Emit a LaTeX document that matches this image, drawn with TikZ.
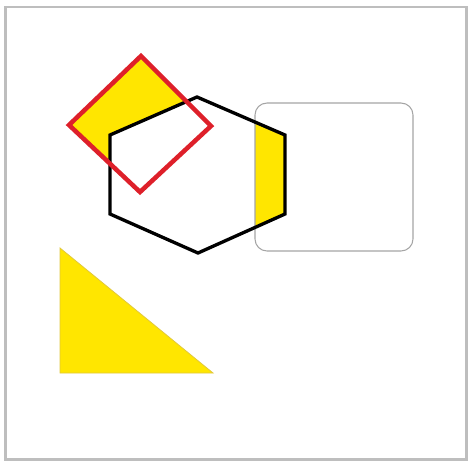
\documentclass[tikz,border=0pt]{standalone}
\definecolor{fillyel}{RGB}{255,230,0}
\definecolor{redline}{RGB}{222,32,42}
\definecolor{framegray}{RGB}{190,190,190}
\definecolor{rectgray}{RGB}{165,165,165}
\definecolor{triedge}{RGB}{225,200,60}
\tikzset{
  frame/.style={draw=framegray, line width=1.6pt},
  hexline/.style={draw=black, line width=2.5pt, line join=miter},
  diamline/.style={draw=redline, line width=3.4pt, line join=miter},
  rrect/.style={draw=rectgray, line width=0.8pt, rounded corners=9pt},
  tri/.style={fill=fillyel, draw=triedge, line width=0.6pt}
}
\begin{document}
\begin{tikzpicture}[x=0.75pt,y=-0.75pt]
\useasboundingbox[fill=white] (0,0) rectangle (469,465);
% outer frame
\draw[frame] (5.5,7) rectangle (466.5,459.5);
% coordinates
\coordinate (dT) at (141,56);
\coordinate (dL) at (69,125);
\coordinate (dB) at (140,192);
\coordinate (dR) at (211,126);
\coordinate (h1) at (197,97);
\coordinate (h2) at (285,135);
\coordinate (h3) at (285,214);
\coordinate (h4) at (198,253);
\coordinate (h5) at (110,214);
\coordinate (h6) at (110,135);
\coordinate (rA) at (255,103);
\coordinate (rB) at (413,251);
% diamond fill
\fill[fillyel] (dT) -- (dR) -- (dB) -- (dL) -- cycle;
% hexagon white fill
\fill[white] (h1) -- (h2) -- (h3) -- (h4) -- (h5) -- (h6) -- cycle;
% hexagon part inside rectangle
\begin{scope}
\clip[rounded corners=9pt] (rA) rectangle (rB);
\fill[fillyel] (h1) -- (h2) -- (h3) -- (h4) -- (h5) -- (h6) -- cycle;
\end{scope}
% rounded rectangle
\draw[rrect] (rA) rectangle (rB);
% hexagon outline
\draw[hexline] (h1) -- (h2) -- (h3) -- (h4) -- (h5) -- (h6) -- cycle;
% diamond outline
\draw[diamline] (dT) -- (dR) -- (dB) -- (dL) -- cycle;
% triangle
\coordinate (t1) at (60,248);
\coordinate (t2) at (60,373);
\coordinate (t3) at (213,373);
\filldraw[tri] (t1) -- (t2) -- (t3) -- cycle;
\end{tikzpicture}
\end{document}
